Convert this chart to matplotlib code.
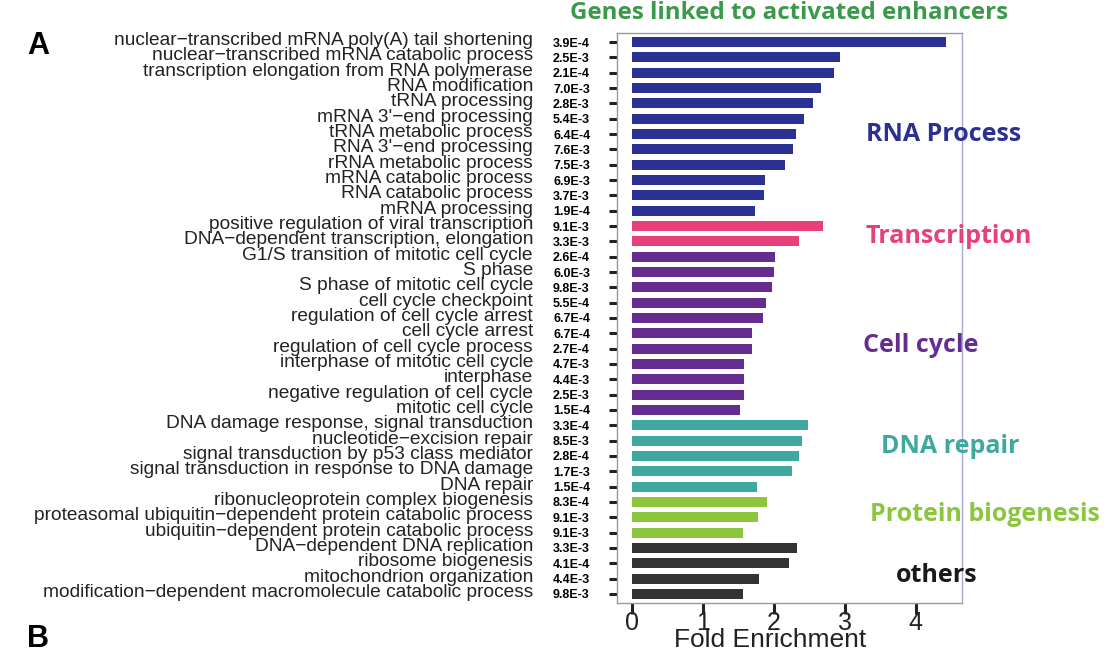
import matplotlib
matplotlib.use("Agg")
import matplotlib.pyplot as plt
import matplotlib.transforms as transforms

terms = [
    "nuclear\u2212transcribed mRNA poly(A) tail shortening",
    "nuclear\u2212transcribed mRNA catabolic process",
    "transcription elongation from RNA polymerase",
    "RNA modification",
    "tRNA processing",
    "mRNA 3'\u2212end processing",
    "tRNA metabolic process",
    "RNA 3'\u2212end processing",
    "rRNA metabolic process",
    "mRNA catabolic process",
    "RNA catabolic process",
    "mRNA processing",
    "positive regulation of viral transcription",
    "DNA\u2212dependent transcription, elongation",
    "G1/S transition of mitotic cell cycle",
    "S phase",
    "S phase of mitotic cell cycle",
    "cell cycle checkpoint",
    "regulation of cell cycle arrest",
    "cell cycle arrest",
    "regulation of cell cycle process",
    "interphase of mitotic cell cycle",
    "interphase",
    "negative regulation of cell cycle",
    "mitotic cell cycle",
    "DNA damage response, signal transduction",
    "nucleotide\u2212excision repair",
    "signal transduction by p53 class mediator",
    "signal transduction in response to DNA damage",
    "DNA repair",
    "ribonucleoprotein complex biogenesis",
    "proteasomal ubiquitin\u2212dependent protein catabolic process",
    "ubiquitin\u2212dependent protein catabolic process",
    "DNA\u2212dependent DNA replication",
    "ribosome biogenesis",
    "mitochondrion organization",
    "modification\u2212dependent macromolecule catabolic process",
]

pvalues = [
    "3.9E-4", "2.5E-3", "2.1E-4", "7.0E-3", "2.8E-3", "5.4E-3", "6.4E-4",
    "7.6E-3", "7.5E-3", "6.9E-3", "3.7E-3", "1.9E-4", "9.1E-3", "3.3E-3",
    "2.6E-4", "6.0E-3", "9.8E-3", "5.5E-4", "6.7E-4", "6.7E-4", "2.7E-4",
    "4.7E-3", "4.4E-3", "2.5E-3", "1.5E-4", "3.3E-4", "8.5E-3", "2.8E-4",
    "1.7E-3", "1.5E-4", "8.3E-4", "9.1E-3", "9.1E-3", "3.3E-3", "4.1E-4",
    "4.4E-3", "9.8E-3",
]

fold = [
    4.43, 2.93, 2.85, 2.66, 2.55, 2.43, 2.31, 2.27, 2.15, 1.88, 1.86, 1.74,
    2.69, 2.36,
    2.02, 2.00, 1.98, 1.89, 1.84, 1.69, 1.69, 1.58, 1.58, 1.58, 1.52,
    2.48, 2.40, 2.35, 2.25, 1.76,
    1.90, 1.77, 1.57,
    2.32, 2.21, 1.79, 1.56,
]

groups = ["RNA Process", "Transcription", "Cell cycle", "DNA repair",
          "Protein biogenesis", "others"]
group_sizes = [12, 2, 11, 5, 3, 4]
group_colors = ["#2b3192", "#e8407a", "#662d91", "#3fa9a0", "#8cc63f", "#1a1a1a"]
# label position: (x in figure px, y in data rows)
group_label_pos = [(866, 6.0), (865, 12.7), (863, 19.8), (881, 26.4), (870, 30.8), (896, 34.8)]

bar_colors = []
for c, n in zip(group_colors, group_sizes):
    bar_colors += [c] * n
bar_colors = [("#333333" if c == "#1a1a1a" else c) for c in bar_colors]

W, H = 1116, 658
fig = plt.figure(figsize=(W / 100, H / 100), dpi=100)
ax = fig.add_axes([617 / W, 1 - 603 / H, (962 - 617) / W, (603 - 33) / H])

ypos = list(range(len(terms)))
ax.barh(ypos, fold, height=0.64, color=bar_colors)
ax.set_ylim(len(terms) - 0.41, -0.59)
ax.set_xlim(-0.21, 4.65)

for s in ax.spines.values():
    s.set_color("#999999")
    s.set_linewidth(1.0)
ax.spines["right"].set_color("#a8a8d8")

ax.set_yticks(ypos)
ax.set_yticklabels(pvalues, fontsize=9, fontweight="bold",
                   family="Liberation Sans", ha="left")
ax.tick_params(axis="y", length=6, width=2.2, pad=40, color="#222222")
ax.set_xticks([0, 1, 2, 3, 4])
ax.set_xticklabels(["0", "1", "2", "3", "4"], fontsize=18,
                   family="Liberation Sans", color="#222222")
ax.tick_params(axis="x", length=8, width=2.2, pad=-2, color="#222222")

fig.text(770 / W, 1 - 640 / H, "Fold Enrichment", ha="center", va="center",
         fontsize=19, family="Liberation Sans", color="#222222")

trans = transforms.blended_transform_factory(fig.transFigure, ax.transData)
for i, t in enumerate(terms):
    ax.text(533 / W, i - 0.1, t, transform=trans, ha="right", va="center",
            fontsize=13.8, family="Liberation Sans", color="#222222")

for g, c, (px, yy) in zip(groups, group_colors, group_label_pos):
    ax.text(px / W, yy, g, transform=trans, ha="left", va="center",
            fontsize=18, fontweight="bold", family="Open Sans", color=c)

fig.text(570 / W, 1 - 13 / H, "Genes linked to activated enhancers",
         ha="left", va="center", fontsize=17.4, fontweight="bold",
         family="Open Sans", color="#3a9a4a")
fig.text(27 / W, 1 - 46 / H, "A", ha="left", va="center", fontsize=22,
         fontweight="bold", family="Liberation Sans")
fig.text(27 / W, 1 - 639 / H, "B", ha="left", va="center", fontsize=22,
         fontweight="bold", family="Liberation Sans")

fig.savefig("out.png", dpi=100)
